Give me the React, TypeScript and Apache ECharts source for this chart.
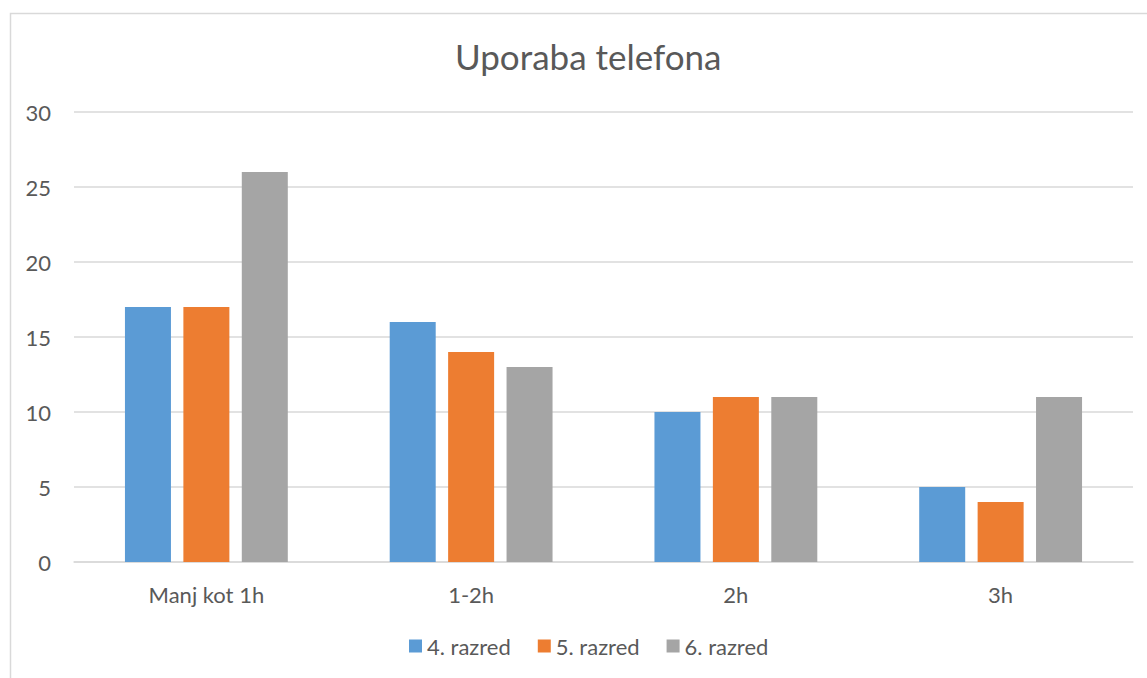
import React, { useEffect, useRef } from "react";
import * as echarts from "echarts";

const categories = ["Manj kot 1h", "1-2h", "2h", "3h"];
const razred4 = [17, 16, 10, 5];
const razred5 = [17, 14, 11, 4];
const razred6 = [26, 13, 11, 11];
const seriesNames = ["4. razred", "5. razred", "6. razred"];
const colors = ["#5B9BD5", "#ED7D31", "#A5A5A5"];

export default function App() {
  const ref = useRef<HTMLDivElement>(null);
  useEffect(() => {
    const chart = echarts.init(ref.current!, null, { renderer: "svg" });
    const font = "Lato, 'Open Sans', sans-serif";
    const data = [razred4, razred5, razred6];
    chart.setOption({
      animation: false,
      backgroundColor: "#ffffff",
      textStyle: { fontFamily: font },
      title: {
        text: "Uporaba telefona",
        left: 450,
        top: 33,
        textStyle: { fontFamily: font, fontSize: 35, fontWeight: "normal", color: "#595959" },
      },
      graphic: [
        {
          type: "rect",
          shape: { x: 10.5, y: 13.5, width: 1150, height: 700 },
          style: { fill: "none", stroke: "#D9D9D9", lineWidth: 1.5 },
          silent: true,
        },
      ],
      legend: {
        top: 630,
        left: 404,
        itemWidth: 13,
        itemHeight: 13,
        itemGap: 27,
        icon: "rect",
        textStyle: { fontFamily: font, fontSize: 22, color: "#595959" },
        data: seriesNames,
      },
      grid: { left: 74, right: 14, top: 112, bottom: 116 },
      xAxis: {
        type: "category",
        data: categories,
        axisLine: { lineStyle: { color: "#D9D9D9", width: 1.5 } },
        axisTick: { show: false },
        axisLabel: { color: "#595959", fontSize: 22, fontFamily: font, margin: 21 },
      },
      yAxis: {
        type: "value",
        min: 0,
        max: 30,
        interval: 5,
        axisLine: { show: false },
        axisTick: { show: false },
        splitLine: { lineStyle: { color: "#D9D9D9", width: 1.5 } },
        axisLabel: { color: "#595959", fontSize: 22, fontFamily: font, margin: 23 },
      },
      series: seriesNames.map((name, i) => ({
        name,
        type: "bar",
        data: data[i],
        barWidth: 46,
        barGap: "27%",
        itemStyle: { color: colors[i] },
      })),
    });
    return () => chart.dispose();
  }, []);
  return (
    <div
      ref={ref}
      style={{ position: "fixed", left: 0, top: 0, width: 1147, height: 678 }}
    />
  );
}
